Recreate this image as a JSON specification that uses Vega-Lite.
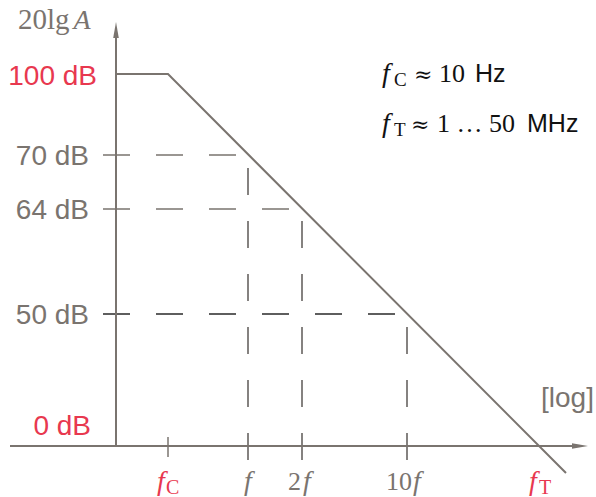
{
  "$schema": "https://vega.github.io/schema/vega-lite/v6.json",
  "width": 596,
  "height": 497,
  "padding": 0,
  "autosize": {"type": "none"},
  "background": "white",
  "config": {"view": {"stroke": null}},
  "datasets": {
    "axes": [
      {"u": -106, "v": 0, "u2": 460, "v2": 0},
      {"u": 0, "v": 0, "u2": 0, "v2": 412}
    ],
    "arrows": [
      {"u": 464, "v": 0, "dir": "right"},
      {"u": 0, "v": 416, "dir": "up"}
    ],
    "gain": [
      {"u": 0, "v": 372},
      {"u": 52, "v": 372},
      {"u": 450, "v": -27}
    ],
    "hdash": [
      {"u": -13, "u2": 132, "v": 291, "tone": "plain"},
      {"u": -13, "u2": 186, "v": 237, "tone": "plain"},
      {"u": -13, "u2": 291, "v": 132, "tone": "dark"}
    ],
    "vdash": [
      {"u": 132, "v": -14, "v2": 291, "tone": "dim"},
      {"u": 186, "v": -14, "v2": 237, "tone": "dim"},
      {"u": 291, "v": -14, "v2": 132, "tone": "dim"}
    ],
    "ticks": [
      {"u": 52, "v": -11, "v2": 9, "tone": "plain"}
    ],
    "dbLabels": [
      {"u": -19, "v": 361, "label": "100 dB", "tone": "key"},
      {"u": -27, "v": 281, "label": "70 dB", "tone": "plain"},
      {"u": -27, "v": 227, "label": "64 dB", "tone": "plain"},
      {"u": -27, "v": 122, "label": "50 dB", "tone": "plain"},
      {"u": -25, "v": 11, "label": "0 dB", "tone": "key"}
    ],
    "sansBig": [
      {"u": 425, "v": 39, "label": "[log]", "tone": "plain"}
    ],
    "sansNote": [
      {"u": 359, "v": 364, "label": "Hz", "tone": "note"},
      {"u": 411, "v": 314, "label": "MHz", "tone": "note"}
    ],
    "yTitle": [
      {"u": -98, "v": 417, "label": "20lg", "tone": "plain"}
    ],
    "xDigits": [
      {"u": 172, "v": -44, "label": "2", "tone": "plain"},
      {"u": 270, "v": -44, "label": "10", "tone": "plain"}
    ],
    "italicBig": [
      {"u": -34, "v": 417, "label": "A", "tone": "plain"},
      {"u": 45, "v": -44, "label": "f", "tone": "key"},
      {"u": 132, "v": -44, "label": "f", "tone": "plain"},
      {"u": 191, "v": -44, "label": "f", "tone": "plain"},
      {"u": 301, "v": -44, "label": "f", "tone": "plain"},
      {"u": 417, "v": -44, "label": "f", "tone": "key"}
    ],
    "subBig": [
      {"u": 50, "v": -48, "label": "C", "tone": "key"},
      {"u": 423, "v": -48, "label": "T", "tone": "key"}
    ],
    "noteItalic": [
      {"u": 270, "v": 364, "label": "f", "tone": "note"},
      {"u": 270, "v": 314, "label": "f", "tone": "note"}
    ],
    "noteSub": [
      {"u": 278, "v": 360, "label": "C", "tone": "note"},
      {"u": 278, "v": 310, "label": "T", "tone": "note"}
    ],
    "noteSym": [
      {"u": 298, "v": 364, "label": "≈", "tone": "note"},
      {"u": 295, "v": 314, "label": "≈", "tone": "note"}
    ],
    "noteSerif": [
      {"u": 323, "v": 364, "label": "10", "tone": "note"},
      {"u": 321, "v": 314, "label": "1 … 50", "tone": "note"}
    ]
  },
  "encoding": {
    "x": {"field": "u", "type": "quantitative", "scale": {"domain": [-116, 480], "nice": false, "zero": false}, "axis": null},
    "y": {"field": "v", "type": "quantitative", "scale": {"domain": [-51, 446], "nice": false, "zero": false}, "axis": null}
  },
  "layer": [
    {
      "data": {"name": "hdash"},
      "mark": {"type": "rule", "strokeWidth": 1.5, "strokeDash": [27, 26]},
      "encoding": {
        "x2": {"field": "u2"},
        "color": {"field": "tone", "type": "nominal", "scale": {"domain": ["key", "plain", "dim", "dark", "note"], "range": ["#e8384f", "#7a746f", "#5e5a57", "#2a2a2a", "#111111"]}, "legend": null}
      }
    },
    {
      "data": {"name": "vdash"},
      "mark": {"type": "rule", "strokeWidth": 1.5, "strokeDash": [27, 26]},
      "encoding": {
        "y2": {"field": "v2"},
        "color": {"field": "tone", "type": "nominal", "legend": null}
      }
    },
    {
      "data": {"name": "ticks"},
      "mark": {"type": "rule", "strokeWidth": 1.5},
      "encoding": {
        "y2": {"field": "v2"},
        "color": {"field": "tone", "type": "nominal", "legend": null}
      }
    },
    {
      "data": {"name": "axes"},
      "mark": {"type": "rule", "strokeWidth": 2, "color": "#7a746f"},
      "encoding": {
        "x2": {"field": "u2"},
        "y2": {"field": "v2"}
      }
    },
    {
      "data": {"name": "arrows"},
      "mark": {"type": "point", "filled": true, "opacity": 1, "size": 256, "color": "#7a746f", "strokeWidth": 0},
      "encoding": {
        "shape": {"field": "dir", "type": "nominal", "scale": {"domain": ["right", "up"], "range": ["M1,0L-1,-0.33L-1,0.33Z", "M0,-1L0.35,1L-0.35,1Z"]}, "legend": null}
      }
    },
    {
      "data": {"name": "gain"},
      "mark": {"type": "line", "strokeWidth": 2, "color": "#7a746f"},
      "encoding": {}
    },
    {
      "data": {"name": "dbLabels"},
      "mark": {"type": "text", "align": "right", "baseline": "alphabetic", "font": "Liberation Sans", "fontSize": 28},
      "encoding": {
        "text": {"field": "label"},
        "color": {"field": "tone", "type": "nominal", "legend": null}
      }
    },
    {
      "data": {"name": "sansBig"},
      "mark": {"type": "text", "align": "left", "baseline": "alphabetic", "font": "Liberation Sans", "fontSize": 28},
      "encoding": {
        "text": {"field": "label"},
        "color": {"field": "tone", "type": "nominal", "legend": null}
      }
    },
    {
      "data": {"name": "sansNote"},
      "mark": {"type": "text", "align": "left", "baseline": "alphabetic", "font": "Liberation Sans", "fontSize": 25},
      "encoding": {
        "text": {"field": "label"},
        "color": {"field": "tone", "type": "nominal", "legend": null}
      }
    },
    {
      "data": {"name": "yTitle"},
      "mark": {"type": "text", "align": "left", "baseline": "alphabetic", "font": "Liberation Serif", "fontSize": 29},
      "encoding": {
        "text": {"field": "label"},
        "color": {"field": "tone", "type": "nominal", "legend": null}
      }
    },
    {
      "data": {"name": "xDigits"},
      "mark": {"type": "text", "align": "left", "baseline": "alphabetic", "font": "Liberation Serif", "fontSize": 26},
      "encoding": {
        "text": {"field": "label"},
        "color": {"field": "tone", "type": "nominal", "legend": null}
      }
    },
    {
      "data": {"name": "italicBig"},
      "mark": {"type": "text", "align": "center", "baseline": "alphabetic", "font": "Liberation Serif", "fontStyle": "italic", "fontSize": 28},
      "encoding": {
        "text": {"field": "label"},
        "color": {"field": "tone", "type": "nominal", "legend": null}
      }
    },
    {
      "data": {"name": "subBig"},
      "mark": {"type": "text", "align": "left", "baseline": "alphabetic", "font": "Liberation Serif", "fontSize": 20},
      "encoding": {
        "text": {"field": "label"},
        "color": {"field": "tone", "type": "nominal", "legend": null}
      }
    },
    {
      "data": {"name": "noteItalic"},
      "mark": {"type": "text", "align": "center", "baseline": "alphabetic", "font": "Liberation Serif", "fontStyle": "italic", "fontSize": 28},
      "encoding": {
        "text": {"field": "label"},
        "color": {"field": "tone", "type": "nominal", "legend": null}
      }
    },
    {
      "data": {"name": "noteSub"},
      "mark": {"type": "text", "align": "left", "baseline": "alphabetic", "font": "Liberation Serif", "fontSize": 19},
      "encoding": {
        "text": {"field": "label"},
        "color": {"field": "tone", "type": "nominal", "legend": null}
      }
    },
    {
      "data": {"name": "noteSym"},
      "mark": {"type": "text", "align": "left", "baseline": "alphabetic", "font": "DejaVu Serif", "fontSize": 22},
      "encoding": {
        "text": {"field": "label"},
        "color": {"field": "tone", "type": "nominal", "legend": null}
      }
    },
    {
      "data": {"name": "noteSerif"},
      "mark": {"type": "text", "align": "left", "baseline": "alphabetic", "font": "Liberation Serif", "fontSize": 26},
      "encoding": {
        "text": {"field": "label"},
        "color": {"field": "tone", "type": "nominal", "legend": null}
      }
    }
  ]
}
